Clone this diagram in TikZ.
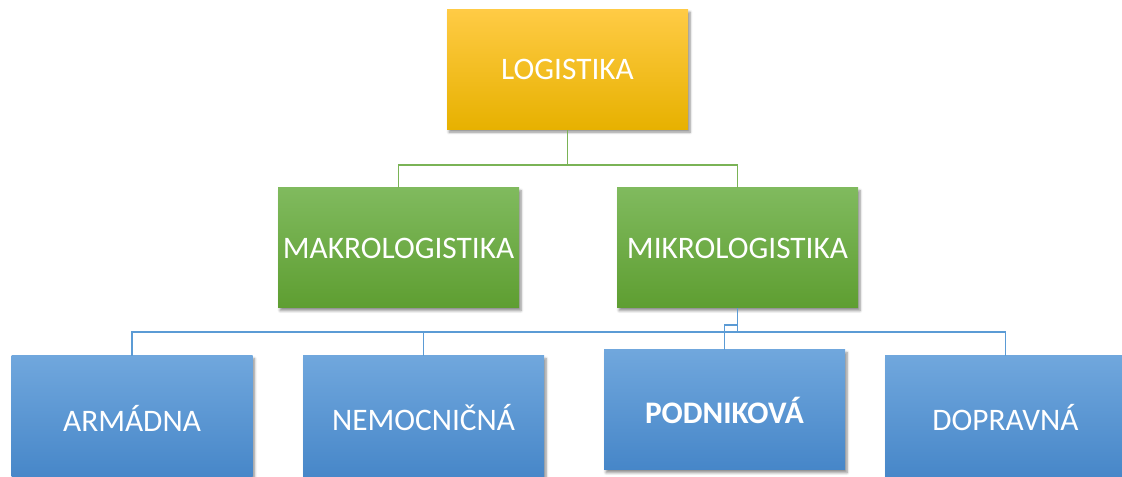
\documentclass[tikz,border=0pt]{standalone}
\usepackage{fontspec}
\setmainfont{Carlito}
\usepackage{tikz}
\usetikzlibrary{positioning,shadows.blur}

\definecolor{logtop}{HTML}{FFCB45}
\definecolor{logbot}{HTML}{E7B100}
\definecolor{grtop}{HTML}{80BA5E}
\definecolor{grbot}{HTML}{5E9E31}
\definecolor{bltop}{HTML}{70A7DD}
\definecolor{blbot}{HTML}{4686C8}
\definecolor{grline}{HTML}{7AB356}
\definecolor{blline}{HTML}{5B9BD5}

\begin{document}
\begin{tikzpicture}[x=0.75pt,y=-0.75pt,
    box/.style={minimum width=180.75pt,minimum height=90pt,inner sep=0pt,
      font=\fontsize{23.5}{27}\selectfont,text=white,
      blur shadow={shadow xshift=1.5pt,shadow yshift=-2pt,shadow blur steps=6,shadow opacity=45}},
    yellowbox/.style={box,top color=logtop,bottom color=logbot},
    greenbox/.style={box,top color=grtop,bottom color=grbot},
    bluebox/.style={box,top color=bltop,bottom color=blbot},
    grlink/.style={draw=grline,line width=1.4pt},
    bllink/.style={draw=blline,line width=1.4pt}]
  \useasboundingbox (0,0) rectangle (1122,477);

  % hlavny uzol
  \node[yellowbox](log) at (567.5,69.5){LOGISTIKA};

  % druha uroven
  \node[greenbox](makro) at (398.5,248){MAKROLOGISTIKA};
  \node[greenbox](mikro) at (737.5,248){MIKROLOGISTIKA};

  % tretia uroven
  \node[bluebox,minimum height=93pt](arm) at (132,418){ARMÁDNA};
  \node[bluebox,minimum height=93pt](nemoc) at (423.5,418){NEMOCNIČNÁ};
  \node[bluebox,font=\fontsize{23.5}{27}\selectfont\bfseries](podn) at (724.5,410){PODNIKOVÁ};
  \node[bluebox,minimum height=93pt](dopr) at (1005.5,418){DOPRAVNÁ};

  \coordinate (gbus) at (567.5,165);
  \coordinate (bbus) at (737.5,332);
  \coordinate (jog) at (737.5,325);

  \draw[grlink] (log.south) -- (gbus);
  \draw[grlink] (makro.north) |- (gbus) -| (mikro.north);

  \draw[bllink] (mikro.south) -- (bbus);
  \draw[bllink] (arm.north) |- (bbus) -| (dopr.north);
  \draw[bllink] (nemoc.north) -- (nemoc.north |- bbus);
  \draw[bllink] (podn.north) |- (jog);
\end{tikzpicture}
\end{document}
